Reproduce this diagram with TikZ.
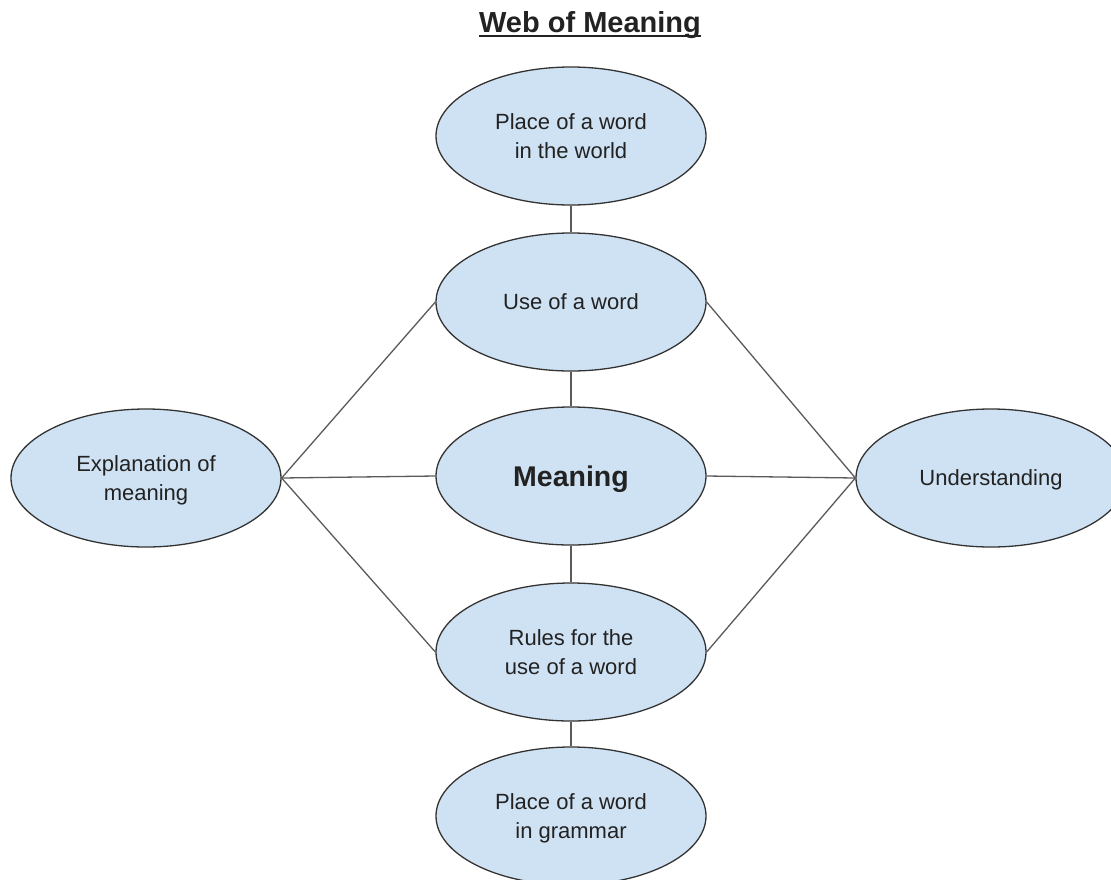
\documentclass[tikz,border=0pt]{standalone}
\usepackage{fontspec}
\setmainfont{Liberation Sans}
\usetikzlibrary{shapes.geometric}
\definecolor{fillblue}{HTML}{CFE2F3}
\definecolor{edgegray}{HTML}{333333}
\definecolor{linegray}{HTML}{5A5A5A}
\definecolor{textdark}{HTML}{222222}
\tikzset{
  bubble/.style={ellipse, draw=edgegray, line width=1.3pt, fill=fillblue,
    minimum width=270pt, minimum height=138pt, inner sep=0pt, align=center,
    text=textdark, text depth=0pt, font=\fontsize{22}{29}\selectfont},
  link/.style={draw=linegray, line width=1.3pt}
}
\begin{document}
\begin{tikzpicture}[x=1pt,y=-1pt]
\useasboundingbox (0,0) rectangle (1111,879);
\node[anchor=base, inner sep=0pt, font=\bfseries\fontsize{29}{32}\selectfont, text=textdark] (title) at (590,32) {Web of Meaning};
\draw[line width=2pt, textdark] ([yshift=-4pt]title.base west) -- ([yshift=-4pt]title.base east);

\node[bubble] (world) at (571,136) {Place of a word\\in the world};
\node[bubble] (use) at (571,302) {Use of a word};
\node[bubble, font=\bfseries\fontsize{28.5}{32}\selectfont] (meaning) at (571,476) {Meaning};
\node[bubble] (rules) at (571,652) {Rules for the\\use of a word};
\node[bubble] (grammar) at (571,816) {Place of a word\\in grammar};
\node[bubble] (expl) at (146,478) {Explanation of\\meaning};
\node[bubble] (under) at (991,478) {Understanding};

\path[link] (world) -- (use);
\path[link] (use) -- (meaning);
\path[link] (meaning) -- (rules);
\path[link] (rules) -- (grammar);
\path[link] (expl.east) -- (use.west);
\path[link] (expl.east) -- (meaning.west);
\path[link] (expl.east) -- (rules.west);
\path[link] (under.west) -- (use.east);
\path[link] (under.west) -- (meaning.east);
\path[link] (under.west) -- (rules.east);
\end{tikzpicture}
\end{document}
